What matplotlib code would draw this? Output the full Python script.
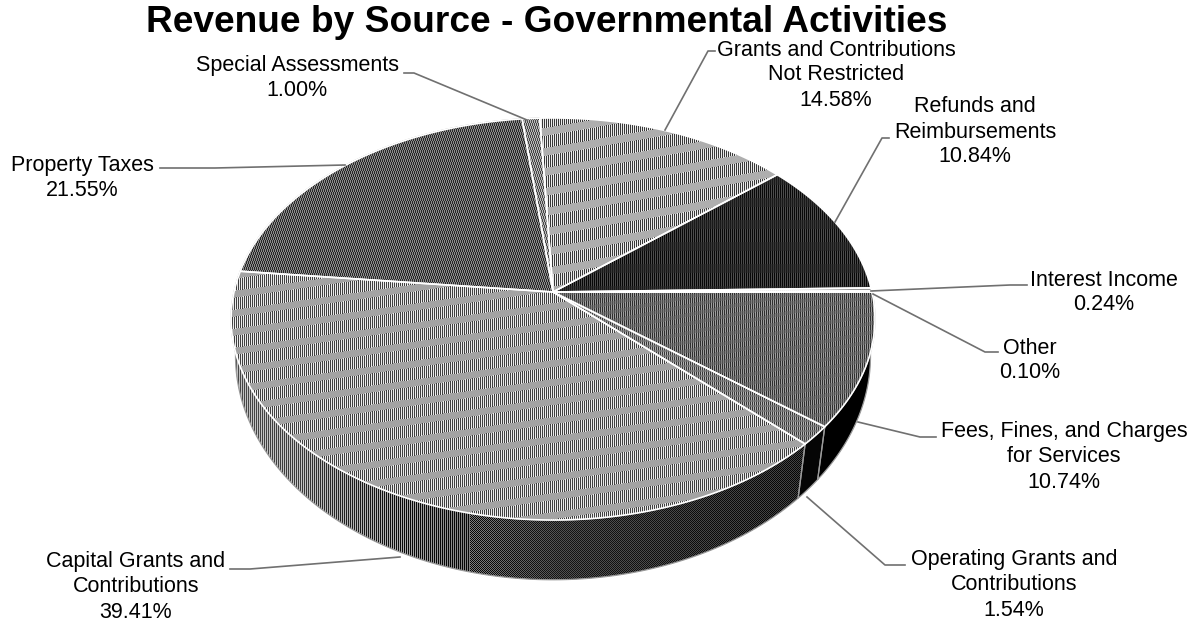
import numpy as np
import matplotlib
matplotlib.use("Agg")
import matplotlib.pyplot as plt
from matplotlib.patches import Polygon

plt.rcParams['font.family'] = ['Liberation Sans', 'DejaVu Sans']

# Revenue shares, clockwise from the top of the pie
sources = ["Grants and Contributions\nNot Restricted", "Refunds and\nReimbursements", "Interest Income",
           "Other", "Fees, Fines, and Charges\nfor Services", "Operating Grants and\nContributions",
           "Capital Grants and\nContributions", "Property Taxes", "Special Assessments"]
shares = [14.58, 10.84, 0.24, 0.10, 10.74, 1.54, 39.41, 21.55, 1.00]
title = "Revenue by Source - Governmental Activities"

W, H = 1197, 621
START_DEG = -2.7

# Perspective of the tilted disc: centre, half-axes and foreshortening
TOP = dict(x0=553.0, y0=292.0, a=319.0, b=197.4, k=0.1343)
BOTTOM = dict(x0=553.0, y0=331.0, a=315.5, b=221.0, k=0.1116)

# (label centre x, first line y, elbow points of the leader)
label_layout = [
    (836, 50, [(715, 51), (708, 51), (665, 130)]),
    (975, 107, [(889, 138), (882, 138), (835, 222)]),
    (1104, 280, [(1027, 285), (1010, 285), (871, 291)]),
    (1030, 348, [(998, 352), (985, 352), (873, 294)]),
    (1064, 432, [(936, 437), (920, 437), (858, 422)]),
    (1014, 560, [(905, 565), (885, 565), (807, 497)]),
    (136, 562, [(230, 569), (250, 569), (400, 557)]),
    (82, 165, [(160, 168), (215, 168), (345, 165)]),
    (297, 66, [(404, 73), (414, 73), (527, 120)]),
]

# Halftone settings per slice: stripe pair, band pair, band slope/period/width
top_styles = [
    dict(a=0.22, b=0.92, c=0.68, d=0.68, slope=0.17, period=20, width=8),
    dict(a=0.03, b=0.30, c=0.10, d=0.22, slope=0.00, period=22, width=9),
    dict(a=0.45, b=0.80, c=0.60, d=0.60, slope=0.00, period=4, width=2),
    dict(a=0.95, b=0.95, c=0.95, d=0.95, slope=0.00, period=4, width=2),
    dict(a=0.18, b=0.62, c=0.30, d=0.50, slope=0.20, period=9, width=4),
    dict(a=0.22, b=0.70, c=0.38, d=0.55, slope=0.00, period=5, width=2),
    dict(a=0.25, b=0.92, c=0.64, d=0.64, slope=0.14, period=19, width=7),
    dict(a=0.16, b=0.55, c=0.55, d=0.16, slope=0.00, period=6, width=3),
    dict(a=0.28, b=0.72, c=0.72, d=0.28, slope=0.00, period=6, width=3),
]
wall_tones = {4: 0.0, 5: 0.02}

X, Y = np.meshgrid(np.arange(W), np.arange(H))


def halftone(a, b, c, d, slope, period, width):
    """Column stripes of a/b crossed by slanted bands of c/d."""
    odd = X % 2 == 1
    band = (Y + slope * X) % period < width
    out = np.where(odd, b, a).astype(float)
    return np.where(band, np.where(odd, d, c), out)


def capital_wall():
    """Side of the largest slice: striped grey on the left, fine dark dots further right."""
    tone = np.interp(X, [236, 300, 340, 400, 470, 560, 800], [0.52, 0.50, 0.42, 0.36, 0.26, 0.20, 0.14])
    amp = np.interp(X, [236, 400, 470, 560, 800], [0.24, 0.32, 0.24, 0.12, 0.12])
    checker = (X + Y) % 2 * 2 - 1
    stripes = X % 2 * 2 - 1
    return np.clip(tone + amp * np.where(X < 470, stripes, checker), 0, 1)


def project(theta, p):
    """Rim or radius point on the tilted disc; theta is clockwise from the back."""
    u, v = np.sin(theta), -np.cos(theta)
    den = 1 - p['k'] * v
    return p['x0'] + p['a'] * u / den, p['y0'] + p['b'] * v / den


fig = plt.figure(figsize=(W / 100, H / 100), dpi=100, facecolor='white')
ax = fig.add_axes([0, 0, 1, 1])
ax.set_xlim(0, W)
ax.set_ylim(H, 0)
ax.axis('off')

edges = np.deg2rad(START_DEG + np.concatenate([[0], np.cumsum(shares)]) * 3.6)
spans = list(zip(edges[:-1], edges[1:]))


def textured(points, pixels, z, edge, lw):
    img = ax.imshow(pixels, cmap='gray', vmin=0, vmax=1, extent=(0, W, H, 0),
                    interpolation='nearest', aspect='auto', zorder=z)
    clip = Polygon(points, closed=True, transform=ax.transData)
    img.set_clip_path(clip)
    ax.add_patch(Polygon(points, closed=True, fill=False, edgecolor=edge, linewidth=lw,
                         zorder=z + 0.1, joinstyle='round'))


# Side walls are drawn first; the top surface covers whatever faces away
for i, (t0, t1) in enumerate(spans):
    if t1 < np.pi / 2:
        continue
    ts = np.linspace(t0, t1, 160)
    xt, yt = project(ts, TOP)
    xb, yb = project(ts[::-1], BOTTOM)
    pts = np.column_stack([np.r_[xt, xb], np.r_[yt, yb]])
    if i in wall_tones:
        pix = np.full((H, W), wall_tones[i], dtype=float)
    elif i == 6:
        pix = capital_wall()
    else:
        pix = np.full((H, W), 0.3)
    textured(pts, pix, 1 + i * 0.01, '#9a9a9a', 0.9)

# Top surface: one textured sector per source
for i, (t0, t1) in enumerate(spans):
    ts = np.linspace(t0, t1, max(12, int((t1 - t0) * 90)))
    xr, yr = project(ts, TOP)
    pts = np.column_stack([np.r_[TOP['x0'], xr], np.r_[TOP['y0'], yr]])
    textured(pts, halftone(**top_styles[i]), 3 + i * 0.01, 'white', 1.2)

ax.set_xlim(0, W)
ax.set_ylim(H, 0)

# Labels and their leaders
for name, share, (cx, y, leader) in zip(sources, shares, label_layout):
    lines = name.split('\n') + [f"{share:.2f}%"]
    for j, line in enumerate(lines):
        ax.text(cx, y + j * 25, line, ha='center', va='center', fontsize=15.5, color='black', zorder=6)
    xs, ys = zip(*leader)
    ax.plot(xs, ys, color='#707070', lw=1.2, zorder=5, solid_joinstyle='round')

ax.text(547, 23, title, ha='center', va='center', fontsize=26.7, fontweight='bold', color='black', zorder=6)

fig.savefig('out.png', dpi=100, facecolor='white')
